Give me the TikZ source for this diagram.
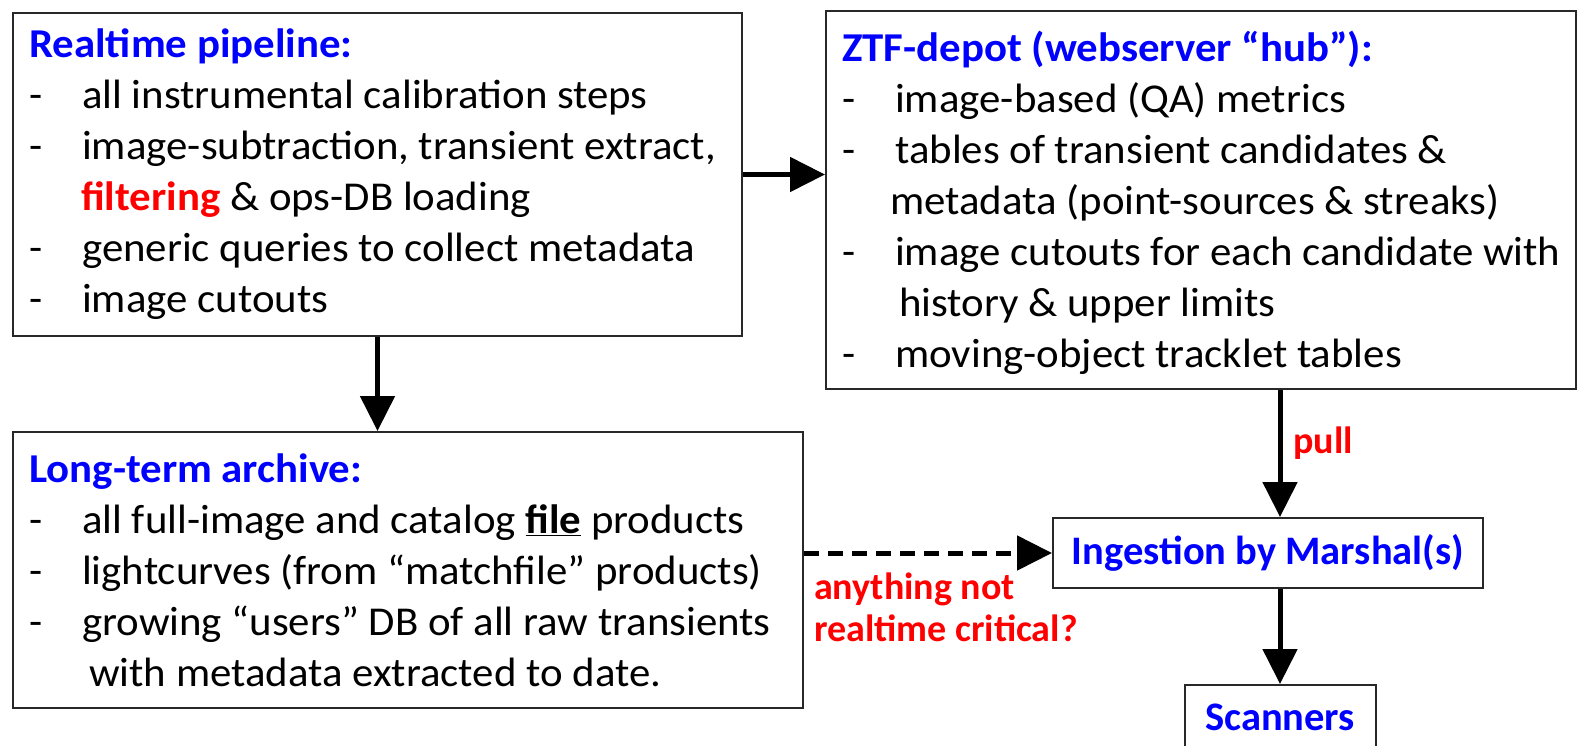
\documentclass[tikz,border=0pt]{standalone}
\usepackage{fontspec}
\setmainfont{Carlito}
\newfontfamily\boxfont[FakeStretch=1.045]{Carlito}
\usetikzlibrary{arrows.meta}
\definecolor{tblue}{RGB}{0,0,255}
\definecolor{tred}{RGB}{255,0,0}
\definecolor{edgegray}{RGB}{40,40,40}
\newcommand{\bul}{\makebox[53pt][l]{-}}
\begin{document}
\begin{tikzpicture}[x=1pt,y=-1pt,
  box/.style={draw=edgegray,line width=2pt,rectangle,anchor=north west,inner sep=0pt},
  boxtext/.style={anchor=west,inner sep=0pt,align=left,font=\boxfont\fontsize{41}{51}\selectfont},
  smallbox/.style={draw=edgegray,line width=2pt,rectangle,inner sep=0pt,text=tblue,font=\fontsize{40.5}{46}\selectfont\bfseries},
  conn/.style={line width=5pt,-{Triangle[length=35pt,width=34pt]}},
  dconn/.style={conn,dash pattern=on 15pt off 9pt},
  lbl/.style={text=tred,font=\fontsize{38}{42}\selectfont\bfseries,align=left,inner sep=0pt}]
\useasboundingbox (0,0) rectangle (1578,745);

\node[box,minimum width=729pt,minimum height=323pt] (rt) at (12,12) {};
\node[boxtext] (rtT) at ([xshift=17pt]rt.west) {%
\textcolor{tblue}{\textbf{Realtime pipeline:}}\\
\bul all instrumental calibration steps\\
\bul image-subtraction, transient extract,\\
\hspace*{52pt}\textcolor{tred}{\textbf{filtering}} \& ops-DB loading\\
\bul generic queries to collect metadata\\
\bul image cutouts};

\node[box,minimum width=750pt,minimum height=378pt] (depot) at (825,10) {};
\node[boxtext] (depotT) at ([xshift=17pt,yshift=-3pt]depot.west) {%
\textcolor{tblue}{\textbf{ZTF-depot (webserver “hub”):}}\\
\bul image-based (QA) metrics\\
\bul tables of transient candidates \&\\
\hspace*{48pt}metadata (point-sources \& streaks)\\
\bul image cutouts for each candidate with\\
\hspace*{57pt}history \& upper limits\\
\bul moving-object tracklet tables};

\node[box,minimum width=790pt,minimum height=276pt] (arch) at (12,431) {};
\node[boxtext] (archT) at ([xshift=17pt]arch.west) {%
\textcolor{tblue}{\textbf{Long-term archive:}}\\
\bul all full-image and catalog \underline{\textbf{file}} products\\
\bul lightcurves (from “matchfile” products)\\
\bul growing “users” DB of all raw transients\\
\hspace*{60pt}with metadata extracted to date.};

\node[smallbox,minimum width=430pt,minimum height=70pt] (ing) at (1268,553) {Ingestion by Marshal(s)};
\node[smallbox,minimum width=191pt,minimum height=64pt,anchor=north] (scan) at (1280,684) {Scanners};

\draw[conn] (rt.east) -- (rt.east -| depot.west);
\draw[conn] (rt.south) -- (rt.south |- arch.north);
\draw[conn] (depot.south -| scan.north) -- (ing.north -| scan.north);
\draw[conn] (ing.south -| scan.north) -- (scan.north);
\draw[dconn] (arch.east |- ing.west) -- (ing.west);

\node[lbl,anchor=west] (pull) at (1293,443) {pull};
\node[lbl,anchor=west] (crit) at (814,607) {anything not\\realtime critical?};
\end{tikzpicture}
\end{document}
